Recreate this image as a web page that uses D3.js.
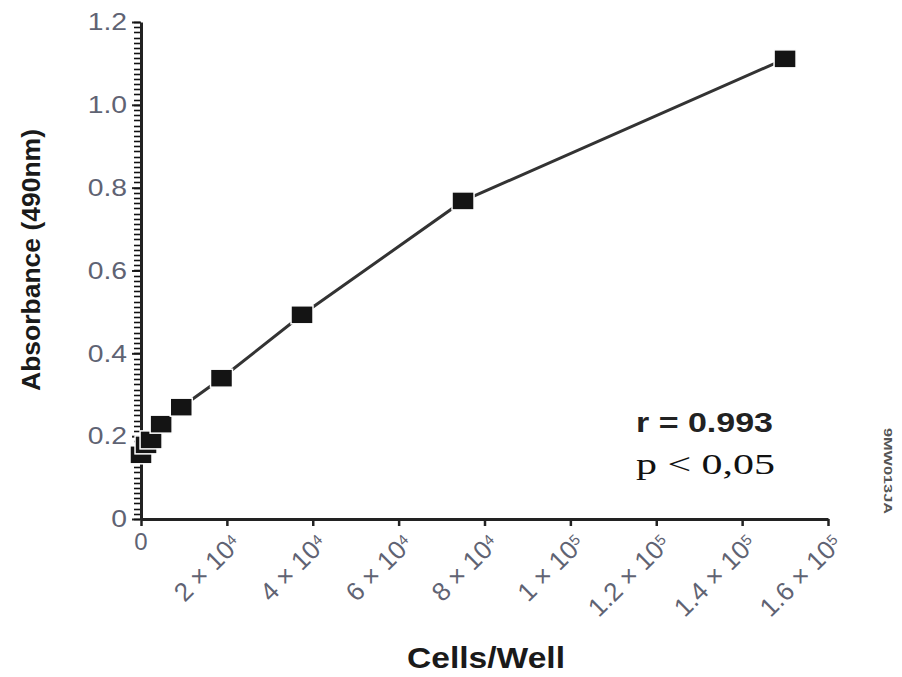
<!DOCTYPE html>
<html><head><meta charset="utf-8">
<script src="https://cdn.jsdelivr.net/npm/d3@7"></script>
<style>body{margin:0;background:#fff;} svg{display:block;}</style>
</head><body>
<svg id="c" width="902" height="677"></svg>
<script>
// ---- data ----
const cells = [0, 1172, 2344, 4688, 9375, 18750, 37500, 75000, 150000];
const absorbance = [0.155, 0.179, 0.191, 0.229, 0.27, 0.34, 0.493, 0.768, 1.111];
const xTickValues = [0, 20000, 40000, 60000, 80000, 100000, 120000, 140000, 160000];
const xTickMantissa = ["0", "2", "4", "6", "8", "1", "1.2", "1.4", "1.6"];
const xTickExponent = ["", "4", "4", "4", "4", "5", "5", "5", "5"];
const yTickValues = [0, 0.2, 0.4, 0.6, 0.8, 1.0, 1.2];
const yTickLabels = ["0", "0.2", "0.4", "0.6", "0.8", "1.0", "1.2"];
const yMinorStep = 0.0125;
const xTitle = "Cells/Well";
const yTitle = "Absorbance (490nm)";
const statR = "r = 0.993";
const statP = "p < 0,05";
const sideNote = "9MW013JA";

// ---- layout ----
const svg = d3.select("#c");
const x = d3.scaleLinear().domain([0, 160000]).range([141, 828]);
const y = d3.scaleLinear().domain([0, 1.2]).range([519, 22]);
const labelColor = "#5f6373";
const axisColor = "#222";

// y major axis
const gy = svg.append("g").attr("transform", `translate(${x(0)},0)`)
  .call(d3.axisLeft(y).tickValues(yTickValues).tickSize(9).tickSizeOuter(0)
    .tickFormat((d, i) => yTickLabels[i]).tickPadding(5));
gy.select(".domain").attr("stroke", axisColor).attr("stroke-width", 3);
gy.selectAll(".tick line").attr("stroke", axisColor).attr("stroke-width", 2);
gy.selectAll(".tick text").attr("fill", labelColor)
  .style("font-family", "Liberation Sans, Arial, sans-serif").style("font-size", "24px")
  .each(function () {
    const L = this.getComputedTextLength();
    d3.select(this).attr("textLength", L * 1.18).attr("lengthAdjust", "spacingAndGlyphs");
  });

// y minor ticks (drawn after the axis line)
const nMinor = Math.round(1.2 / yMinorStep);
const minorVals = d3.range(0, nMinor + 1).map(k => k * yMinorStep);
const minorG = svg.append("g");
minorVals.forEach(v => {
  const yy = Math.round(y(v)) + 0.5;
  minorG.append("line")
    .attr("x1", x(0) - 7).attr("x2", x(0) - 1)
    .attr("y1", yy).attr("y2", yy)
    .attr("stroke", "#111").attr("stroke-width", 1.6);
});

// x axis
const gx = svg.append("g").attr("transform", `translate(0,${y(0)})`)
  .call(d3.axisBottom(x).tickValues(xTickValues).tickSize(7).tickSizeOuter(0).tickFormat(""));
gx.select(".domain").attr("stroke", axisColor).attr("stroke-width", 3);
gx.selectAll(".tick line").attr("stroke", axisColor).attr("stroke-width", 2.5);

// x tick labels
xTickValues.forEach((v, i) => {
  if (xTickExponent[i] === "") {
    svg.append("text").attr("x", x(v)).attr("y", y(0) + 31)
      .attr("text-anchor", "middle").attr("fill", labelColor)
      .style("font-family", "Liberation Sans, Arial, sans-serif").style("font-size", "24px")
      .text(xTickMantissa[i]);
    return;
  }
  const t = svg.append("text")
    .attr("transform", `translate(${x(v) + 9},${y(0) + 20}) rotate(-45)`)
    .attr("text-anchor", "end").attr("dy", "0.35em").attr("fill", labelColor)
    .style("font-family", "Liberation Sans, Arial, sans-serif").style("font-size", "26px");
  t.append("tspan").text(xTickMantissa[i] + " × 10");
  t.append("tspan").attr("dy", "-0.45em").style("font-size", "15px").text(xTickExponent[i]);
});

// line
const pts = cells.map((c, i) => [c, absorbance[i]]);
svg.append("path").datum(pts)
  .attr("fill", "none").attr("stroke", "#333").attr("stroke-width", 3)
  .attr("d", d3.line().x(d => x(d[0])).y(d => y(d[1])));

// markers
const mw = 22, mh = 18;
svg.append("g").selectAll("rect").data(pts).join("rect")
  .attr("x", d => x(d[0]) - mw / 2).attr("y", d => y(d[1]) - mh / 2)
  .attr("width", mw).attr("height", mh)
  .attr("fill", "#141414").attr("stroke", "#fff").attr("stroke-width", 1.5);

// axis titles
svg.append("text").attr("x", 486).attr("y", 668).attr("text-anchor", "middle")
  .attr("fill", "#1a1a1a").style("font-family", "Liberation Sans, Arial, sans-serif")
  .style("font-size", "30px").style("font-weight", "bold")
  .attr("textLength", 158).attr("lengthAdjust", "spacingAndGlyphs").text(xTitle);

svg.append("text").attr("transform", "translate(40,260) rotate(-90)")
  .attr("text-anchor", "middle").attr("fill", "#1a1a1a")
  .style("font-family", "Liberation Sans, Arial, sans-serif")
  .style("font-size", "25px").style("font-weight", "bold")
  .attr("textLength", 262).attr("lengthAdjust", "spacingAndGlyphs").text(yTitle);

// statistics
svg.append("text").attr("x", 636).attr("y", 432).attr("fill", "#222")
  .style("font-family", "Liberation Sans, Arial, sans-serif")
  .style("font-size", "28px").style("font-weight", "bold")
  .attr("textLength", 137).attr("lengthAdjust", "spacingAndGlyphs").text(statR);
svg.append("text").attr("x", 636).attr("y", 474).attr("fill", "#111")
  .style("font-family", "Liberation Serif, Times New Roman, serif")
  .style("font-size", "30px")
  .attr("textLength", 139).attr("lengthAdjust", "spacingAndGlyphs").text(statP);

// side note
svg.append("text").attr("transform", "translate(884,428) rotate(90)")
  .attr("fill", "#555").style("font-family", "Liberation Sans, Arial, sans-serif")
  .style("font-size", "10px").style("font-weight", "bold")
  .attr("textLength", 86).attr("lengthAdjust", "spacingAndGlyphs").text(sideNote);
</script>
</body></html>
